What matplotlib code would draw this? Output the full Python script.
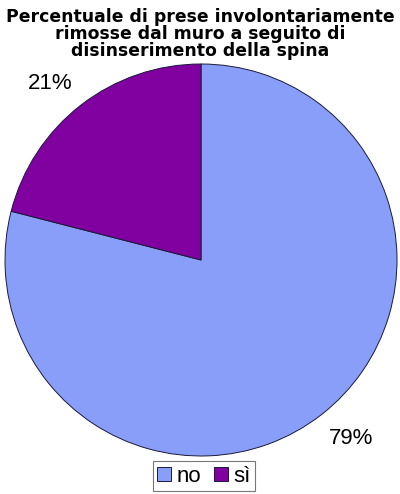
import matplotlib.pyplot as plt

labels = ["no", "sì"]
values = [79, 21]
colors = ["#889EF8", "#8000A0"]
title = "Percentuale di prese involontariamente\nrimosse dal muro a seguito di\ndisinserimento della spina"

W, H = 400, 494
fig = plt.figure(figsize=(W / 100, H / 100), dpi=100, facecolor="white")
plt.rcParams["font.family"] = ["Liberation Sans", "DejaVu Sans"]

cx, cy, r = 201, 260, 196
ax = fig.add_axes([(cx - r) / W, (H - cy - r) / H, 2 * r / W, 2 * r / H])
wedges, _, pcts = ax.pie(
    values,
    colors=colors,
    startangle=90,
    counterclock=False,
    autopct="%1.0f%%",
    pctdistance=1.2,
    wedgeprops={"edgecolor": "#1a1a3a", "linewidth": 0.7},
    textprops={"fontsize": 16},
)
ax.set_xlim(-1, 1)
ax.set_ylim(-1, 1)
ax.set_aspect("equal")

# label placement as in the original (outside the rim)
pct_pos = [(0.765, -0.913), (-0.770, 0.898)]
for t, pos in zip(pcts, pct_pos):
    t.set_position(pos)

fig.text(0.5, 1 - 8 / H, title, ha="center", va="top", fontsize=12.4,
         fontweight="bold", family="DejaVu Sans", linespacing=0.92)

leg = fig.legend(
    wedges, labels, loc="center", bbox_to_anchor=(204 / W, 1 - 476 / H),
    ncol=2, fontsize=16, frameon=True, fancybox=False, edgecolor="#555555",
    handlelength=0.6, handleheight=0.6, handletextpad=0.25, columnspacing=0.6,
    borderpad=0.2, borderaxespad=0,
)
leg.get_frame().set_linewidth(0.8)

fig.savefig("out.png", dpi=100)
